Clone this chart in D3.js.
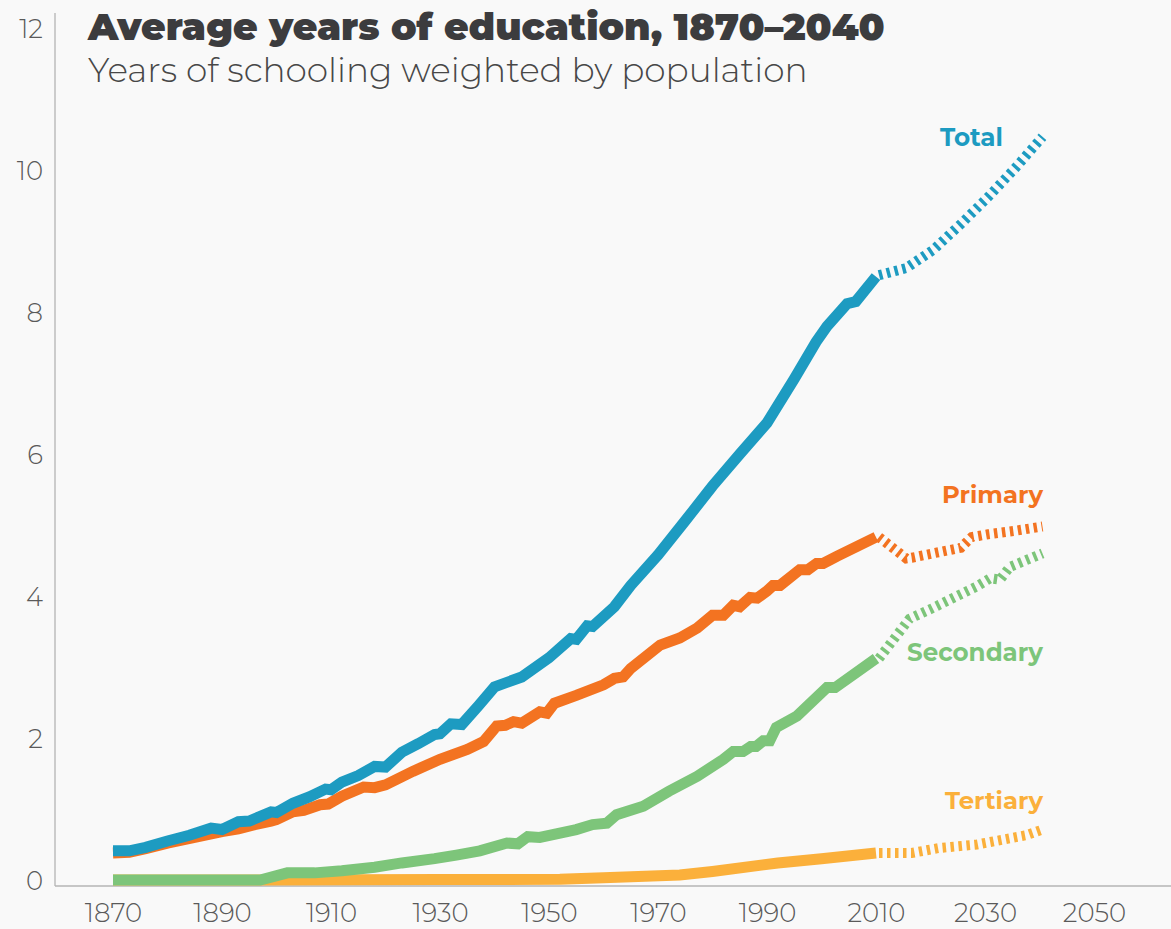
<!DOCTYPE html>
<html>
<head>
<meta charset="utf-8">
<script src="https://cdn.jsdelivr.net/npm/d3@7"></script>
<style>
  html, body { margin: 0; padding: 0; background: #f9f9f9; }
  svg { display: block; }
  text { font-family: "Montserrat", "Lato", "Open Sans", sans-serif; }
</style>
</head>
<body>
<svg id="chart" width="1171" height="929"></svg>
<script>
// ---------- data ----------
const xTicks = [1870, 1890, 1910, 1930, 1950, 1970, 1990, 2010, 2030, 2050];
const yTicks = [0, 2, 4, 6, 8, 10, 12];

const seriesNames = ["Tertiary", "Secondary", "Primary", "Total"];
const seriesColors = ["#fbb03b", "#7dc57a", "#f37321", "#1d9bc1"];

const totalHist = [[1870,0.41],[1873,0.41],[1876,0.46],[1880,0.55],[1884,0.63],[1888,0.73],[1890,0.71],[1893,0.82],[1895,0.83],[1899,0.96],[1900,0.95],[1903,1.08],[1906,1.17],[1909,1.28],[1910,1.27],[1912,1.38],[1915,1.47],[1918,1.6],[1920,1.59],[1923,1.8],[1926,1.92],[1929,2.05],[1930,2.06],[1932,2.2],[1934,2.19],[1937,2.45],[1940,2.72],[1945,2.86],[1950,3.13],[1954,3.4],[1955,3.39],[1957,3.58],[1958,3.57],[1962,3.85],[1965,4.15],[1970,4.58],[1975,5.06],[1980,5.55],[1985,6.0],[1990,6.44],[1995,7.06],[1999,7.58],[2001,7.8],[2004.7,8.12],[2006.3,8.15],[2010,8.5]];
const totalProj = [[2010,8.52],[2015,8.62],[2020,8.88],[2025,9.24],[2030,9.62],[2035,10.03],[2040,10.47]];

const primaryHist = [[1870,0.38],[1873,0.39],[1876,0.44],[1880,0.52],[1885,0.6],[1890,0.68],[1893,0.72],[1896,0.78],[1899,0.83],[1900,0.85],[1903,0.96],[1905,0.98],[1908,1.06],[1909.5,1.07],[1912,1.18],[1916,1.31],[1918,1.3],[1920,1.34],[1925,1.53],[1930,1.7],[1935,1.84],[1938,1.95],[1940.4,2.17],[1942,2.18],[1943.5,2.23],[1945,2.21],[1948.3,2.37],[1949.6,2.35],[1951,2.49],[1955,2.6],[1960,2.75],[1962,2.84],[1963.6,2.86],[1965,2.98],[1970.4,3.31],[1974,3.41],[1977.2,3.55],[1980,3.73],[1982,3.73],[1983.8,3.87],[1985,3.85],[1986.9,3.98],[1988.2,3.97],[1990,4.07],[1991.1,4.15],[1992.4,4.15],[1996,4.37],[1997.5,4.37],[1999.1,4.46],[2000.3,4.46],[2002.8,4.56],[2010,4.83]];
const primaryProj = [[2010,4.83],[2015,4.53],[2016,4.54],[2025,4.68],[2027,4.83],[2030,4.87],[2035,4.92],[2040,4.98]];

const secondaryHist = [[1870,0],[1897,0],[1902,0.1],[1907,0.1],[1912,0.13],[1918,0.18],[1923,0.24],[1929,0.3],[1933,0.35],[1937.3,0.41],[1942.3,0.52],[1944.3,0.51],[1946.1,0.61],[1948.3,0.6],[1955,0.71],[1958,0.78],[1960.6,0.8],[1962.4,0.92],[1967.3,1.04],[1972,1.25],[1977.2,1.46],[1982,1.7],[1983.8,1.81],[1985.6,1.81],[1987,1.88],[1988,1.88],[1989.3,1.96],[1990.5,1.96],[1991.7,2.15],[1995.5,2.31],[2001,2.71],[2002.5,2.71],[2010,3.12]];
const secondaryProj = [[2010,3.12],[2015.6,3.68],[2019.3,3.81],[2027.8,4.13],[2030.4,4.25],[2032.2,4.23],[2034,4.41],[2040,4.6]];

const tertiaryHist = [[1870,0],[1897,0],[1930,0.005],[1952,0.01],[1960,0.03],[1974,0.07],[1980,0.12],[1992,0.24],[2000,0.3],[2010,0.38]];
const tertiaryProj = [[2010,0.38],[2016,0.38],[2021,0.45],[2028,0.5],[2037,0.63],[2040,0.71]];

const histSeries = [tertiaryHist, secondaryHist, primaryHist, totalHist];
const projSeries = [tertiaryProj, secondaryProj, primaryProj, totalProj];

const titleText = "Average years of education, 1870\u20132040";
const subtitleText = "Years of schooling weighted by population";

// ---------- layout ----------
const svg = d3.select("#chart");
svg.append("rect").attr("width", 1171).attr("height", 929).attr("fill", "#f9f9f9");

const x = d3.scaleLinear().domain([1860, 2060]).range([58.5, 1148.5]);
const y = d3.scaleLinear().domain([-0.085, 12.2]).range([886, 14]);

// axes lines
svg.append("line").attr("x1", 55).attr("x2", 55).attr("y1", 13).attr("y2", 886)
  .attr("stroke", "#bdbdbd").attr("stroke-width", 1.5);
svg.append("line").attr("x1", 55).attr("x2", 1171).attr("y1", 886).attr("y2", 886)
  .attr("stroke", "#b5b5b5").attr("stroke-width", 1.5);

// y axis labels
const yAxis = d3.axisLeft(y).tickValues(yTicks).tickSize(0).tickPadding(0).tickFormat(d3.format("d"));
const gy = svg.append("g").attr("transform", "translate(43,0)").call(yAxis);
gy.select(".domain").remove();
gy.selectAll("text").attr("font-size", 26).attr("font-weight", 300)
  .attr("fill", "#5a5a5a").attr("font-family", "Montserrat, Lato, sans-serif").attr("dy", "0.35em");

// x axis labels
const xAxis = d3.axisBottom(x).tickValues(xTicks).tickSize(0).tickPadding(0).tickFormat(d3.format("d"));
const gx = svg.append("g").attr("transform", "translate(0,922)").call(xAxis);
gx.select(".domain").remove();
gx.selectAll("text").attr("font-size", 26).attr("font-weight", 300)
  .attr("fill", "#5a5a5a").attr("font-family", "Montserrat, Lato, sans-serif").attr("dy", 0);

// lines
const line = d3.line().x(d => x(d[0])).y(d => y(d[1]));
histSeries.forEach((s, i) => {
  svg.append("path").datum(s).attr("d", line)
    .attr("fill", "none").attr("stroke", seriesColors[i]).attr("stroke-width", 11)
    .attr("stroke-linejoin", "miter");
});
projSeries.forEach((s, i) => {
  svg.append("path").datum(s).attr("d", line)
    .attr("fill", "none").attr("stroke", seriesColors[i]).attr("stroke-width", 10)
    .attr("stroke-dasharray", "3.5,4.5").attr("transform", "translate(3,0)");
});

// series labels
const labelPos = {
  "Total":     { x: 1003, y: 146 },
  "Primary":   { x: 1043, y: 503 },
  "Secondary": { x: 1043, y: 661 },
  "Tertiary":  { x: 1043, y: 809 }
};
const labelWidths = { "Total": 63, "Primary": 101, "Secondary": 136, "Tertiary": 98 };
seriesNames.forEach((n, i) => {
  const t = svg.append("text").attr("x", labelPos[n].x).attr("y", labelPos[n].y)
    .attr("text-anchor", "end").attr("font-size", 24).attr("font-weight", 700)
    .attr("fill", seriesColors[i]).text(n);
  const w = t.node().getComputedTextLength();
  const fs = Math.min(27, 24 * labelWidths[n] / w);
  t.attr("font-size", fs);
});

// title & subtitle, sized to the reference width
function fitText(sel, target, base) {
  const w = sel.node().getComputedTextLength();
  sel.attr("font-size", base * target / w);
}
const title = svg.append("text").attr("x", 88).attr("y", 40)
  .attr("font-size", 36).attr("font-weight", 900).attr("fill", "#3c3c3e").text(titleText);
fitText(title, 797, 36);
const sub = svg.append("text").attr("x", 88).attr("y", 82)
  .attr("font-size", 30).attr("font-weight", 300).attr("fill", "#474747").text(subtitleText);
fitText(sub, 720, 30);
</script>
</body>
</html>
